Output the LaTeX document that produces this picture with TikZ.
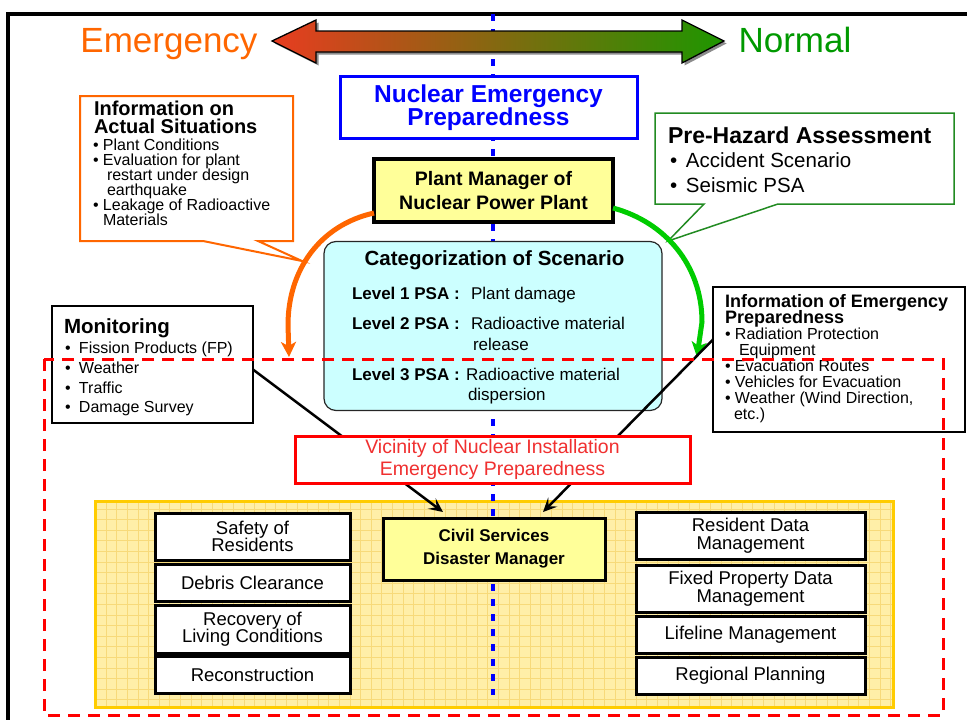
\documentclass[tikz,border=0pt]{standalone}
\usepackage{fontspec}
\setmainfont{Liberation Sans}
\usetikzlibrary{arrows.meta,calc}
\definecolor{emorange}{HTML}{FF6600}
\definecolor{normgreen}{HTML}{009900}
\definecolor{nepblue}{HTML}{0000FF}
\definecolor{pmyellow}{HTML}{FFFF99}
\definecolor{catcyan}{HTML}{CCFFFF}
\definecolor{arcgreen}{HTML}{00CC00}
\definecolor{gridfill}{HTML}{FFEFA8}
\definecolor{gridline}{HTML}{F7DA7A}
\definecolor{gridborder}{HTML}{FFCC00}
\definecolor{vicred}{HTML}{F03030}
\definecolor{callgreen}{HTML}{228B22}
\definecolor{arrL}{HTML}{E83C20}
\definecolor{arrM}{HTML}{A87A1C}
\definecolor{arrR}{HTML}{1E9600}
\newcommand{\fsz}[2]{\fontsize{#1pt}{#2pt}\selectfont\lineskiplimit=-30pt\relax}
\newcommand{\bl}[1]{\makebox[#1pt][l]{\textbullet}}
\newcommand{\ind}[1]{\hspace*{#1pt}}
\begin{document}
\begin{tikzpicture}[x=1pt,y=-1pt,
  txt/.style={inner sep=0pt,outer sep=0pt,align=left},
  wbox/.style={draw=black,line width=3pt,fill=white,inner sep=0pt,outer sep=0pt,align=center,font=\fsz{18.5}{17.5}},
  lbox/.style={wbox,minimum width=195pt},
  rbox/.style={wbox,minimum width=229pt},
  infobox/.style={draw=black,line width=2pt,fill=white,inner sep=0pt,outer sep=0pt},
  arcarrow/.style={line width=5pt,-{Stealth[length=15pt,width=15pt,inset=4pt]}},
  blkarrow/.style={line width=2.5pt,-{Stealth[length=14pt,width=13pt,inset=6pt]}}
]
\useasboundingbox (0,0) rectangle (967,720);

% yellow grid region
\fill[gridfill] (95,501) rectangle (893,707);
\draw[gridline,line width=0.5pt,step=10.6pt] (95,501) grid (893,707);
\draw[gridborder,line width=3pt] (95,501) rectangle (893,707);

% outer frame
\draw[line width=3.5pt] (8,726) -- (8,14) -- (975,14);

% blue centre line
\draw[nepblue,line width=4.5pt,dash pattern=on 7pt off 8pt] (493,14) -- (493,695);

% double arrow
\fill[black!45,shift={(2.5,2.5)}] (272,41) -- (316,20) -- (316,31) -- (682,31) -- (682,20) -- (724,41) -- (682,63) -- (682,52) -- (316,52) -- (316,63) -- cycle;
\shadedraw[left color=arrL,middle color=arrM,right color=arrR,draw=black,line width=1.3pt] (272,41) -- (316,20) -- (316,31) -- (682,31) -- (682,20) -- (724,41) -- (682,63) -- (682,52) -- (316,52) -- (316,63) -- cycle;
\node[txt,anchor=base,text=emorange,font=\fsz{35}{35}] (emg) at (169,52) {Emergency};
\node[txt,anchor=base,text=normgreen,font=\fsz{35}{35}] (nrm) at (795,52) {Normal};

% orange callout
\draw[emorange,line width=2pt,fill=white] (80,96) -- (293,96) -- (293,241) -- (258,241) -- (302,261) -- (203,241) -- (80,241) -- cycle;
\node[txt,anchor=north west,font=\bfseries\fsz{20}{18}] (oct) at (94,101.5) {Information on\\Actual Situations};
\node[txt,anchor=north west,font=\fsz{16}{15}] (ocl) at (93,138.5) {\bl{10}Plant Conditions\\\bl{10}Evaluation for plant\\\ind{14}restart under design\\\ind{14}earthquake\\\bl{10}Leakage of Radioactive\\\ind{10}Materials};

% green callout
\draw[callgreen,line width=1.5pt,fill=white] (655,113) -- (954,113) -- (954,204) -- (778,204) -- (668,241) -- (704,204) -- (655,204) -- cycle;
\node[txt,anchor=north west,font=\bfseries\fsz{23}{25}] (gct) at (668,127.2) {Pre-Hazard Assessment};
\node[txt,anchor=north west,font=\fsz{20.5}{25}] (gcl) at (670,153) {\bl{16}Accident Scenario\\\bl{16}Seismic PSA};

% Nuclear Emergency Preparedness
\node[draw=nepblue,line width=3pt,fill=white,minimum width=297pt,minimum height=62pt,inner sep=0pt,outer sep=0pt,align=center,text=nepblue,font=\bfseries\fsz{24.5}{23.5}] (nep) at (488.5,107.5) {Nuclear Emergency\\Preparedness};

% Plant manager
\node[draw=black,line width=3.5pt,fill=pmyellow,minimum width=239pt,minimum height=63pt,inner sep=0pt,outer sep=0pt,align=center,font=\bfseries\fsz{19.5}{24}] (pm) at (493.5,190.5) {Plant Manager of\\Nuclear Power Plant};

% Categorization
\node[draw=black!85,line width=1.2pt,fill=catcyan,rounded corners=12pt,minimum width=338pt,minimum height=169pt,inner sep=0pt,outer sep=0pt] (cat) at (493,326) {};
\node[txt,anchor=base,font=\bfseries\fsz{20.5}{20}] (catt) at (494.5,265) {Categorization of Scenario};
\node[txt,anchor=base west,font=\bfseries\fsz{17}{17}] (l1) at (352,299) {Level 1 PSA :};
\node[txt,anchor=base west,font=\fsz{17}{17}] (d1) at (471,299) {Plant damage};
\node[txt,anchor=base west,font=\bfseries\fsz{17}{17}] (l2) at (352,329) {Level 2 PSA :};
\node[txt,anchor=base west,font=\fsz{17}{17}] (d2) at (471,329) {Radioactive material};
\node[txt,anchor=base west,font=\fsz{17}{17}] (d2b) at (473,350) {release};
\node[txt,anchor=base west,font=\bfseries\fsz{17}{17}] (l3) at (352,380) {Level 3 PSA :};
\node[txt,anchor=base west,font=\fsz{17}{17}] (d3) at (466,380) {Radioactive material};
\node[txt,anchor=base west,font=\fsz{17}{17}] (d3b) at (468,400) {dispersion};

% Monitoring
\node[infobox,minimum width=201pt,minimum height=117pt] (mon) at (152.5,364.5) {};
\node[txt,anchor=north west,font=\bfseries\fsz{20.5}{20}] (mont) at (64,319) {Monitoring};
\node[txt,anchor=north west,font=\fsz{16}{19.7}] (monl) at (65,342.3) {\bl{14}Fission Products (FP)\\\bl{14}Weather\\\bl{14}Traffic\\\bl{14}Damage Survey};

% Information of emergency preparedness
\node[infobox,minimum width=252pt,minimum height=145pt] (iep) at (839,359.5) {};
\node[txt,anchor=north west,font=\bfseries\fsz{18}{16.5}] (iept) at (725,294) {Information of Emergency\\Preparedness};
\node[txt,anchor=north west,font=\fsz{16}{16}] (iepl) at (725,328.3) {\bl{10}Radiation Protection\\\ind{14}Equipment\\\bl{10}Evacuation Routes\\\bl{10}Vehicles for Evacuation\\\bl{10}Weather (Wind Direction,\\\ind{9}etc.)};

% left boxes
\node[lbox,minimum height=47pt] (saf) at (252.5,536.5) {Safety of\\Residents};
\node[lbox,minimum height=37pt] (deb) at (252.5,582.5) {Debris Clearance};
\node[lbox,minimum height=48pt] (rec) at (252.5,629) {Recovery of\\Living Conditions};
\node[lbox,minimum height=37pt] (rcn) at (252.5,674.5) {Reconstruction};

% right boxes
\node[rbox,minimum height=47pt] (res) at (750.5,535.5) {Resident Data\\Management};
\node[rbox,minimum height=47pt] (fix) at (750.5,588.5) {Fixed Property Data\\Management};
\node[rbox,minimum height=37pt] (lif) at (750.5,634.5) {Lifeline Management};
\node[rbox,minimum height=37pt] (reg) at (750.5,675.5) {Regional Planning};

% arcs
\coordinate (oTip) at (289,357);
\coordinate (gTip) at (697,357);
\draw[arcarrow,emorange] ($(pm.south west)+(0,-9)$) .. controls (320,225) and (288,270) .. (288,325) -- (oTip);
\draw[arcarrow,arcgreen] ($(pm.south east)+(0,-14)$) .. controls (665,222) and (702,265) .. (702,322) -- (gTip);

% black connectors
\coordinate (civL) at (443,512);
\coordinate (civR) at (543,512);
\draw[blkarrow] ($(mon.east)+(0,5)$) -- (civL);
\draw[blkarrow] ($(iep.west)+(0,-20)$) -- (civR);

% Vicinity box
\node[draw=red,line width=3pt,fill=white,minimum width=395pt,minimum height=47pt,inner sep=0pt,outer sep=0pt,align=center,text=vicred,font=\fsz{19.5}{22}] (vic) at (492.5,459.5) {Vicinity of Nuclear Installation\\Emergency Preparedness};

% Civil services
\node[draw=black,line width=3pt,fill=pmyellow,minimum width=222pt,minimum height=62pt,inner sep=0pt,outer sep=0pt,align=center,font=\bfseries\fsz{17}{23}] (civ) at (494,549) {Civil Services\\Disaster Manager};

% red dashed region
\draw[red,line width=3pt,dash pattern=on 12pt off 8pt] (44,359) rectangle (943,715);
\end{tikzpicture}
\end{document}
